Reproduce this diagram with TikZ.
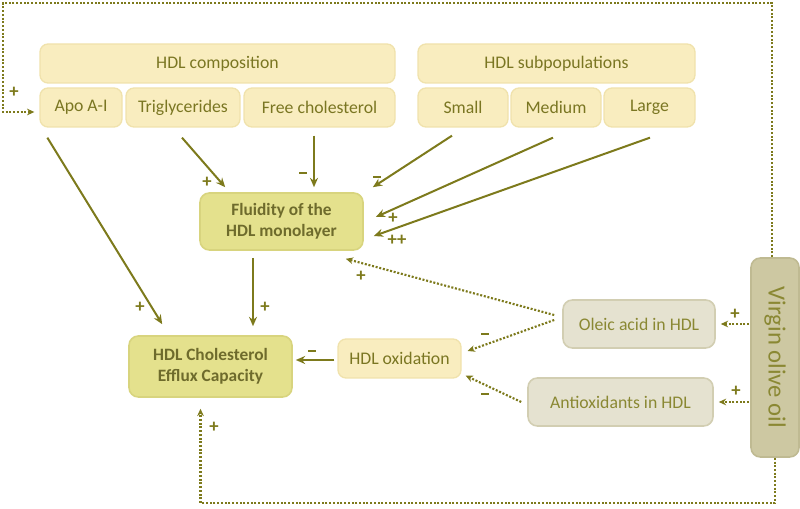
\documentclass[tikz,border=0pt]{standalone}
\usepackage{fontspec}
\setmainfont{Carlito}
\usetikzlibrary{arrows.meta}
\definecolor{olv}{HTML}{7D7A1C}
\definecolor{txtlight}{HTML}{7A7622}
\definecolor{lightfill}{HTML}{F9EDBF}
\definecolor{lightedge}{HTML}{F0E2AC}
\definecolor{darkfill}{HTML}{E4E18D}
\definecolor{darkedge}{HTML}{D8D47E}
\definecolor{darktxt}{HTML}{6E6B2C}
\definecolor{greyfill}{HTML}{E5E2D0}
\definecolor{greyedge}{HTML}{D2CEB2}
\definecolor{greytxt}{HTML}{8A8833}
\definecolor{vfill}{HTML}{CDC8A2}
\definecolor{vedge}{HTML}{BFBA92}
\newcommand{\mns}{\rule{5.5pt}{2pt}}
\tikzset{
  lbox/.style={rectangle, rounded corners=6pt, fill=lightfill, draw=lightedge, line width=1pt,
    text=txtlight, font=\fontsize{13.3}{15}\selectfont, inner sep=0pt, align=center},
  dbox/.style={rectangle, rounded corners=7pt, fill=darkfill, draw=darkedge, line width=1.2pt,
    text=darktxt, font=\fontsize{13}{16}\selectfont\bfseries, inner sep=0pt, align=center},
  gbox/.style={rectangle, rounded corners=7pt, fill=greyfill, draw=greyedge, line width=1.2pt,
    text=greytxt, font=\fontsize{13.3}{15}\selectfont, inner sep=0pt, align=center},
  vbox/.style={rectangle, rounded corners=7pt, fill=vfill, draw=vedge, line width=1.2pt,
    text=greytxt, font=\fontsize{18.5}{20}\selectfont, inner sep=0pt, align=center},
  arr/.style={draw=olv, line width=1.5pt, -{Stealth[length=7pt,width=6pt]}},
  dotarr/.style={draw=olv, line width=1.6pt, line cap=butt, dash pattern=on 1.5pt off 1.3pt,
    -{Stealth[length=5.5pt,width=5pt]}},
  sgn/.style={text=olv, font=\fontsize{14}{15}\selectfont\bfseries, inner sep=0pt}
}
\begin{document}
\begin{tikzpicture}[x=0.75pt,y=-0.75pt]
\useasboundingbox (0,0) rectangle (800,509);
% top boxes
\node[lbox, minimum width=266.25pt, minimum height=29.25pt] (comp) at (217.5,63.5) {HDL composition};
\node[lbox, minimum width=61.5pt, minimum height=29.25pt] (apo) at (81,107.5) {Apo A-I};
\node[lbox, minimum width=85.5pt, minimum height=29.25pt] (trig) at (183,107.5) {Triglycerides};
\node[lbox, minimum width=113.25pt, minimum height=29.25pt] (free) at (319.5,107.5) {Free cholesterol};
\node[lbox, minimum width=207.75pt, minimum height=29.25pt] (subp) at (556.5,63.5) {HDL subpopulations};
\node[lbox, minimum width=67.5pt, minimum height=29.25pt] (small) at (463,107.5) {Small};
\node[lbox, minimum width=67.5pt, minimum height=29.25pt] (medium) at (556,107.5) {Medium};
\node[lbox, minimum width=68.25pt, minimum height=29.25pt] (large) at (649.5,107.5) {Large};
% central boxes
\node[dbox, minimum width=122.25pt, minimum height=42.75pt] (fluid) at (281.5,221.5) {Fluidity of the\\HDL monolayer};
\node[dbox, minimum width=122.25pt, minimum height=45.75pt] (efflux) at (210.5,366.5) {HDL Cholesterol\\Efflux Capacity};
\node[lbox, minimum width=92.25pt, minimum height=29.25pt] (oxid) at (399.5,358.5) {HDL oxidation};
\node[gbox, minimum width=114pt, minimum height=36pt] (oleic) at (639,324) {Oleic acid in HDL};
\node[gbox, minimum width=138.75pt, minimum height=36pt] (antiox) at (620.5,402) {Antioxidants in HDL};
\node[vbox, minimum width=36pt, minimum height=149.25pt] (virgin) at (775,357.5) {\rotatebox{-90}{Virgin olive oil}};
% solid connectors
\draw[arr] ([shift={(8,10)}]apo.south west) -- ([shift={(34,-11)}]efflux.north west);
\draw[arr] ([shift={(-1,10)}]trig.south) -- ([shift={(26,-5)}]fluid.north west);
\draw[arr] ([shift={(-5.5,8)}]free.south) -- ([shift={(32.5,-5)}]fluid.north);
\draw[arr] ([shift={(-11,8)}]small.south) -- ([shift={(9,-5)}]fluid.north east);
\draw[arr] ([shift={(-3,10)}]medium.south) -- ([shift={(12,-4.5)}]fluid.east);
\draw[arr] ([shift={(0.5,10)}]large.south) -- ([shift={(10,14.5)}]fluid.east);
\draw[arr] ([shift={(-28.5,7)}]fluid.south) -- ([shift={(42.5,-9)}]efflux.north);
\draw[arr] ([shift={(-3,1.5)}]oxid.west) -- ([shift={(3,-6.5)}]efflux.east);
% dotted connectors
\draw[dotarr] ([shift={(-8,-9)}]oleic.west) -- ([shift={(-18,8)}]fluid.south east);
\draw[dotarr] ([shift={(-8,-4)}]oleic.west) -- ([shift={(6,-7.5)}]oxid.east);
\draw[dotarr] ([shift={(-6,0)}]antiox.west) -- ([shift={(4,-3)}]oxid.south east);
\draw[dotarr] ([shift={(-1,0)}]virgin.west |- oleic.east) -- ([shift={(5,0)}]oleic.east);
\draw[dotarr] ([shift={(-1,0)}]virgin.west |- antiox.east) -- ([shift={(5,0)}]antiox.east);
\coordinate (bot) at (775,503);
\draw[dotarr] (virgin.south) -- (bot) -| ([shift={(-10,11)}]efflux.south);
\coordinate (tl) at (3,3);
\draw[dotarr] ([shift={(-3,0)}]virgin.north) |- (tl) |- ([shift={(-5,4.5)}]apo.west);
% signs
\node[sgn] (s1) at (14,92) {+};
\node[sgn] (s2) at (207,182) {+};
\node[sgn] (s3) at (303,173) {\mns};
\node[sgn] (s4) at (377,177) {\mns};
\node[sgn] (s5) at (393,218) {+};
\node[sgn] (s6) at (397,240) {++};
\node[sgn] (s7) at (361,276) {+};
\node[sgn] (s8) at (265,307) {+};
\node[sgn] (s9) at (140,307) {+};
\node[sgn] (s10) at (312,351) {\mns};
\node[sgn] (s11) at (485,334) {\mns};
\node[sgn] (s12) at (485,394) {\mns};
\node[sgn] (s13) at (735,314) {+};
\node[sgn] (s14) at (736,391) {+};
\node[sgn] (s15) at (214,427) {+};
\end{tikzpicture}
\end{document}
